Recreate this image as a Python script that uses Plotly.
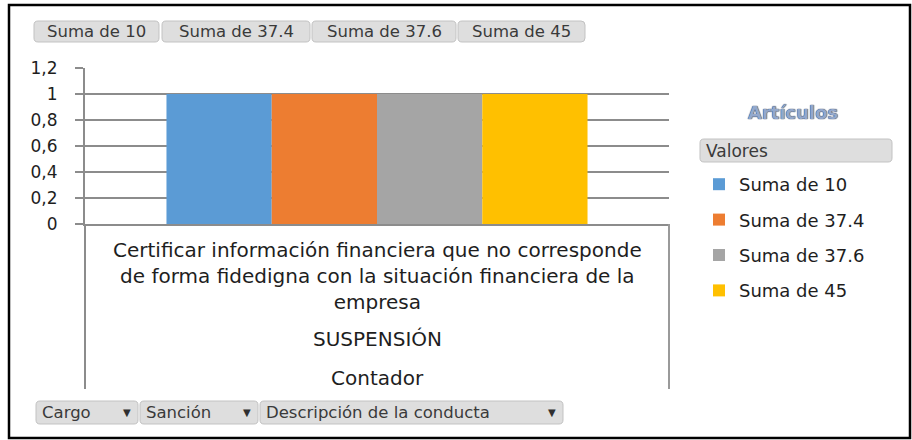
import plotly.graph_objects as go

# ---------------- data ----------------
categories = ["Certificar información financiera que no corresponde de forma fidedigna con la situación financiera de la empresa"]
category_lines = ["Certificar información financiera que no corresponde",
                  "de forma fidedigna con la situación financiera de la",
                  "empresa"]
sanciones = ["SUSPENSIÓN"]
cargos = ["Contador"]
series_names = ["Suma de 10", "Suma de 37.4", "Suma de 37.6", "Suma de 45"]
series_values = [[1], [1], [1], [1]]
series_colors = ["#5B9BD5", "#ED7D31", "#A5A5A5", "#FFC000"]
y_tick_vals = [0, 0.2, 0.4, 0.6, 0.8, 1, 1.2]
y_tick_text = ["0", "0,2", "0,4", "0,6", "0,8", "1", "1,2"]
top_buttons = ["Suma de 10", "Suma de 37.4", "Suma de 37.6", "Suma de 45"]
bottom_buttons = ["Cargo", "Sanción", "Descripción de la conducta"]
legend_title = "Artículos"
legend_header = "Valores"

# ---------------- layout geometry (pixels) ----------------
W, H = 912, 440
L, R, T, B = 85, 669, 68, 224


def px(x):
    return (x - L) / (R - L)


def py(y):
    return (B - y) / (B - T)


def rounded_path(x0, y0, x1, y1, r=4):
    pts = [
        ("M", [(x0 + r, y0)]),
        ("L", [(x1 - r, y0)]),
        ("Q", [(x1, y0), (x1, y0 + r)]),
        ("L", [(x1, y1 - r)]),
        ("Q", [(x1, y1), (x1 - r, y1)]),
        ("L", [(x0 + r, y1)]),
        ("Q", [(x0, y1), (x0, y1 - r)]),
        ("L", [(x0, y0 + r)]),
        ("Q", [(x0, y0), (x0 + r, y0)]),
    ]
    s = ""
    for cmd, ps in pts:
        s += cmd + " ".join(f"{px(a):.5f},{py(b):.5f}" for a, b in ps) + " "
    return s + "Z"


fig = go.Figure()
for name, vals, col in zip(series_names, series_values, series_colors):
    fig.add_trace(go.Bar(x=categories, y=vals, name=name, marker=dict(color=col, line=dict(width=0)),
                         legendgroup=name, hoverinfo="skip"))

text_col = "#1e1e1e"
btn_font = dict(family="DejaVu Sans", size=16.5, color="#3a3a3a")
main_family = "DejaVu Sans"

shapes = []
annotations = []

# outer border
shapes.append(dict(type="rect", xref="paper", yref="paper", x0=px(9), x1=px(910), y0=py(5), y1=py(438),
                   line=dict(color="#000000", width=2.5), layer="below"))

# category box lines
shapes.append(dict(type="line", xref="paper", yref="paper", x0=0, x1=0, y0=0, y1=py(389),
                   line=dict(color="#8c8c8c", width=2)))
shapes.append(dict(type="line", xref="paper", yref="paper", x0=1, x1=1, y0=0, y1=py(389),
                   line=dict(color="#9a9a9a", width=2)))

# top buttons
top_pos = [(34, 159), (162, 310), (312, 456), (458, 585)]
for label, (a, b) in zip(top_buttons, top_pos):
    shapes.append(dict(type="path", xref="paper", yref="paper", path=rounded_path(a, 21, b, 42),
                       fillcolor="#dedede", line=dict(color="#c2c2c2", width=1), layer="below"))
    annotations.append(dict(text=label, x=px((a + b) / 2), y=py(31.5), xref="paper", yref="paper",
                            showarrow=False, font=btn_font, xanchor="center", yanchor="middle"))

# bottom buttons
bot_pos = [(36, 138), (140, 258), (260, 563)]
for label, (a, b) in zip(bottom_buttons, bot_pos):
    shapes.append(dict(type="path", xref="paper", yref="paper", path=rounded_path(a, 401, b, 424),
                       fillcolor="#dedede", line=dict(color="#c2c2c2", width=1), layer="below"))
    annotations.append(dict(text=label, x=px(a + 4), y=py(412.5), xref="paper", yref="paper",
                            showarrow=False, font=btn_font, xanchor="left", yanchor="middle"))
    annotations.append(dict(text="▼", x=px(b - 11), y=py(412.5), xref="paper", yref="paper",
                            showarrow=False, font=dict(family="DejaVu Sans", size=10, color="#303030"),
                            xanchor="center", yanchor="middle"))

# Valores header button
shapes.append(dict(type="path", xref="paper", yref="paper", path=rounded_path(700, 139, 892, 162),
                   fillcolor="#dedede", line=dict(color="#c2c2c2", width=1), layer="below"))
annotations.append(dict(text=legend_header, x=px(704), y=py(150.5), xref="paper", yref="paper",
                        showarrow=False, font=dict(family="DejaVu Sans", size=17, color="#3a3a3a"),
                        xanchor="left", yanchor="middle"))

# legend title
annotations.append(dict(text="<b>" + legend_title + "</b>", x=px(793), y=py(112), xref="paper", yref="paper",
                        showarrow=False, xanchor="center", yanchor="middle",
                        font=dict(family="DejaVu Sans", size=18, color="#93A8CC",
                                  shadow="0px 0px 1px #2c3c5c, 0px 0px 1px #2c3c5c")))

# category labels (multi-level axis)
cat_font = dict(family=main_family, size=20, color=text_col)
annotations.append(dict(text="<br>".join(category_lines), x=categories[0], xref="x", y=py(236), yref="paper",
                        showarrow=False, xanchor="center", yanchor="top", align="center", font=cat_font))
annotations.append(dict(text=sanciones[0], x=categories[0], xref="x", y=py(339), yref="paper",
                        showarrow=False, xanchor="center", yanchor="middle", font=cat_font))
annotations.append(dict(text=cargos[0], x=categories[0], xref="x", y=py(378), yref="paper",
                        showarrow=False, xanchor="center", yanchor="middle", font=cat_font))

fig.update_layout(
    width=W, height=H,
    margin=dict(l=L, r=W - R, t=T, b=H - B, pad=0),
    paper_bgcolor="#ffffff", plot_bgcolor="#ffffff",
    barmode="group", bargap=0.279, bargroupgap=0,
    showlegend=True,
    legend=dict(x=px(699), xanchor="left", y=py(166), yanchor="top",
                font=dict(family=main_family, size=18, color=text_col),
                tracegroupgap=9, itemwidth=30, bgcolor="rgba(0,0,0,0)"),
    xaxis=dict(range=[-0.5, 0.5], showticklabels=False, ticks="", showgrid=False,
               showline=True, linecolor="#8c8c8c", linewidth=2, zeroline=False, fixedrange=True),
    yaxis=dict(range=[0, 1.2], tickvals=y_tick_vals, ticktext=y_tick_text,
               ticks="outside", ticklen=8, tickcolor="#8c8c8c", tickwidth=1.5,
               showgrid=True, gridcolor="#8c8c8c", gridwidth=1.5,
               showline=True, linecolor="#8c8c8c", linewidth=2, zeroline=False,
               ticklabelstandoff=14,
               tickfont=dict(family=main_family, size=17, color=text_col), fixedrange=True),
    shapes=shapes, annotations=annotations,
)

fig.write_html("out.html", config={"displayModeBar": False},
               post_script="document.body.style.margin='0';")
